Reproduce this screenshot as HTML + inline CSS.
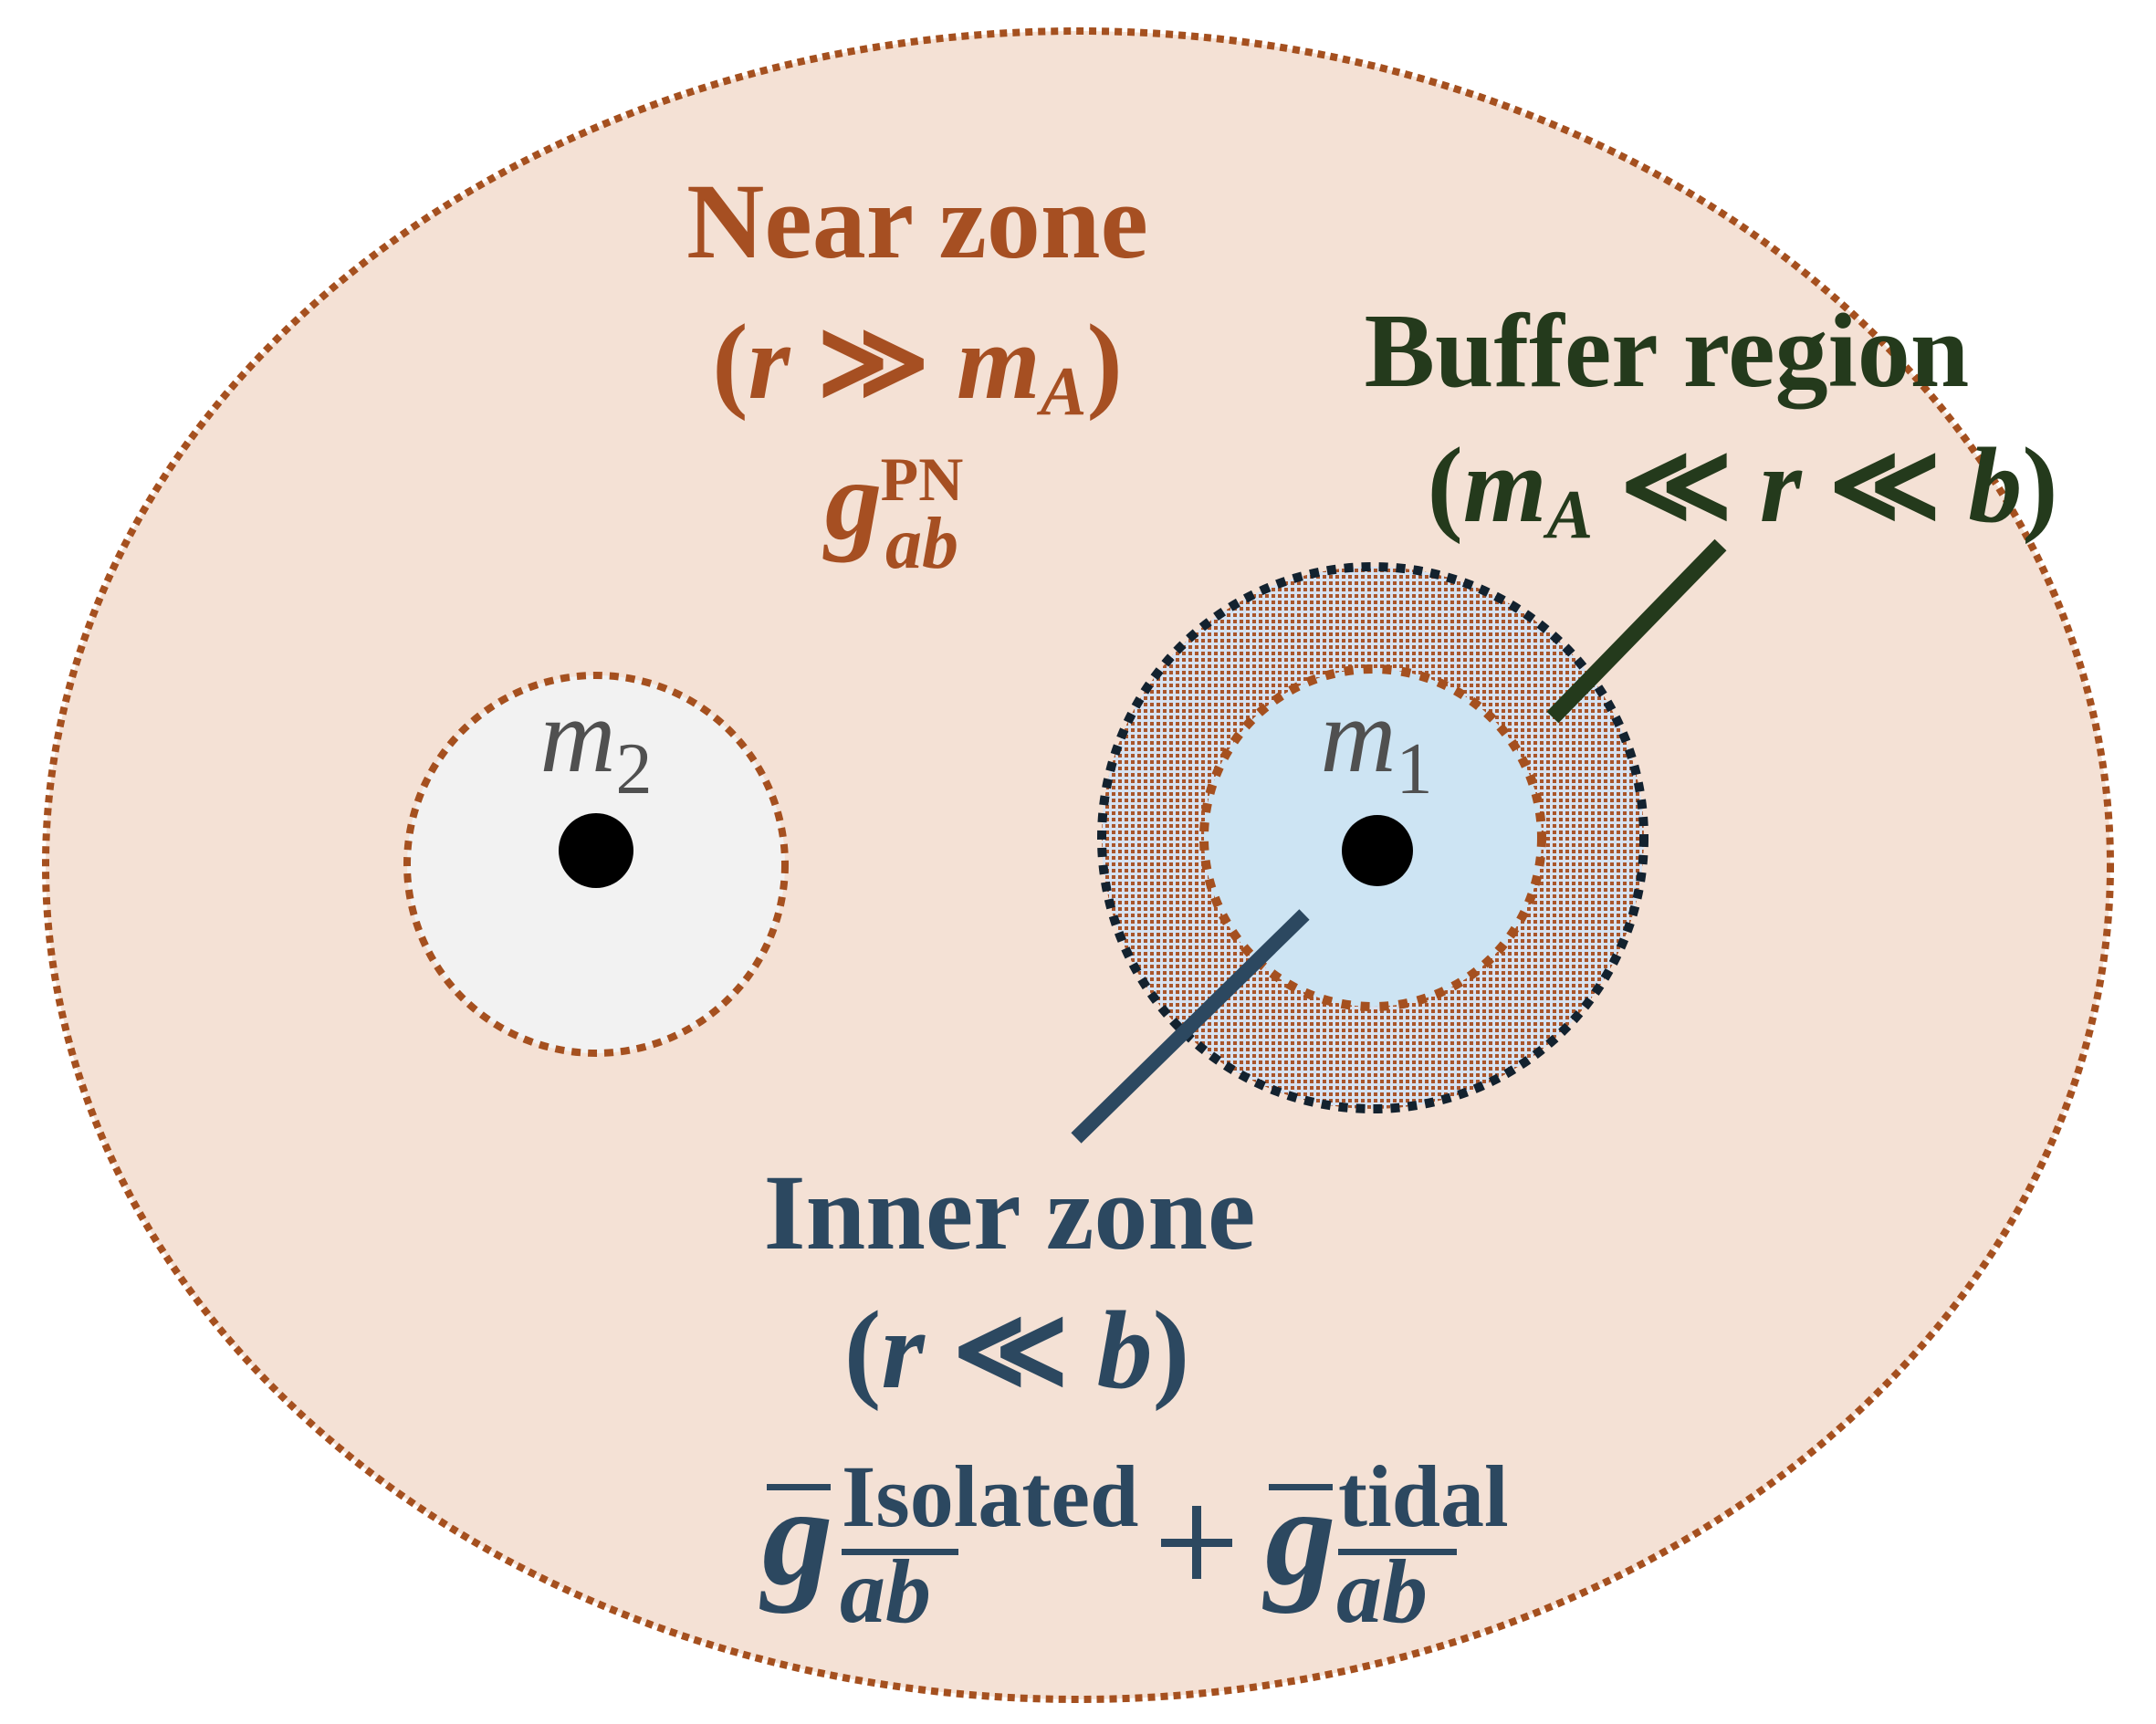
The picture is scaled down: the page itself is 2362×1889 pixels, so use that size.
<!DOCTYPE html>
<html><head><meta charset="utf-8"><style>
html,body{margin:0;padding:0;background:#fff}
svg{display:block}
text{font-family:"Liberation Serif",serif;font-weight:bold}
</style></head><body>
<svg width="2362" height="1889" viewBox="0 0 2362 1889" xmlns="http://www.w3.org/2000/svg">
<defs>
<pattern id="dots" width="7" height="7" patternUnits="userSpaceOnUse">
<rect width="7" height="7" fill="#d8e2f0"/>
<rect x="0" y="0" width="4" height="4" fill="#a9552a"/>
</pattern>
</defs>
<ellipse cx="1181" cy="948" rx="1131" ry="914" fill="#f4e1d5" stroke="#a5501f" stroke-width="8" stroke-dasharray="8 6"/>
<circle cx="653" cy="947" r="207" fill="#f2f2f2" stroke="#a5501f" stroke-width="8" stroke-dasharray="10 8"/>
<circle cx="1504" cy="918" r="297" fill="url(#dots)" stroke="#13222f" stroke-width="10" stroke-dasharray="10 9"/>
<circle cx="1504" cy="918" r="185" fill="#cde4f3" stroke="#a5501f" stroke-width="10" stroke-dasharray="10 11"/>
<circle cx="653" cy="932" r="41" fill="#000"/>
<circle cx="1509" cy="932" r="39" fill="#000"/>
<text x="653" y="845" font-size="115" fill="#505050" style="font-weight:normal;font-style:italic" text-anchor="middle">m<tspan font-size="80" dy="24" style="font-style:normal">2</tspan></text>
<text x="1508" y="845" font-size="115" fill="#505050" style="font-weight:normal;font-style:italic" text-anchor="middle">m<tspan font-size="80" dy="24" style="font-style:normal">1</tspan></text>
<line x1="1885" y1="597" x2="1701" y2="786" stroke="#243a1c" stroke-width="18"/>
<line x1="1429" y1="1002" x2="1179" y2="1247" stroke="#2c4860" stroke-width="16"/>
<g fill="#a64f22" text-anchor="middle">
<text x="1005" y="282" font-size="118">Near zone</text>
<text x="1005" y="436" font-size="118">(<tspan font-style="italic">r</tspan> ≫ <tspan font-style="italic">m</tspan><tspan font-style="italic" font-size="76" dy="18">A</tspan><tspan dy="-18">)</tspan></text>
<text x="935" y="590" font-size="125" font-style="italic">g</text>
<text x="1010" y="548" font-size="68">PN</text>
<text x="1010" y="622" font-size="80" font-style="italic">ab</text>
</g>
<g fill="#243a1c" text-anchor="middle">
<text x="1826" y="423" font-size="116">Buffer region</text>
<text x="1909" y="571" font-size="118">(<tspan font-style="italic">m</tspan><tspan font-style="italic" font-size="76" dy="18">A</tspan><tspan dy="-18"> ≪ </tspan><tspan font-style="italic">r</tspan> ≪ <tspan font-style="italic">b</tspan>)</text>
</g>
<g fill="#2c4860" text-anchor="middle">
<text x="1106" y="1368" font-size="118">Inner zone</text>
<text x="1114" y="1520" font-size="122">(<tspan font-style="italic">r</tspan> ≪ <tspan font-style="italic">b</tspan>)</text>
</g>
<g fill="#2c4860">
<text x="835" y="1735" font-size="155" font-style="italic">g</text>
<rect x="840" y="1626" width="70" height="7"/>
<text x="922" y="1672" font-size="96">Isolated</text>
<rect x="922" y="1697" width="128" height="7"/>
<text x="920" y="1777" font-size="100" font-style="italic">ab</text>
<rect x="1306" y="1650" width="10" height="80"/>
<rect x="1272" y="1686" width="78" height="9"/>
<text x="1386" y="1735" font-size="155" font-style="italic">g</text>
<rect x="1390" y="1626" width="70" height="7"/>
<text x="1466" y="1672" font-size="96">tidal</text>
<rect x="1466" y="1697" width="130" height="7"/>
<text x="1464" y="1777" font-size="100" font-style="italic">ab</text>
</g>
</svg>
</body></html>
